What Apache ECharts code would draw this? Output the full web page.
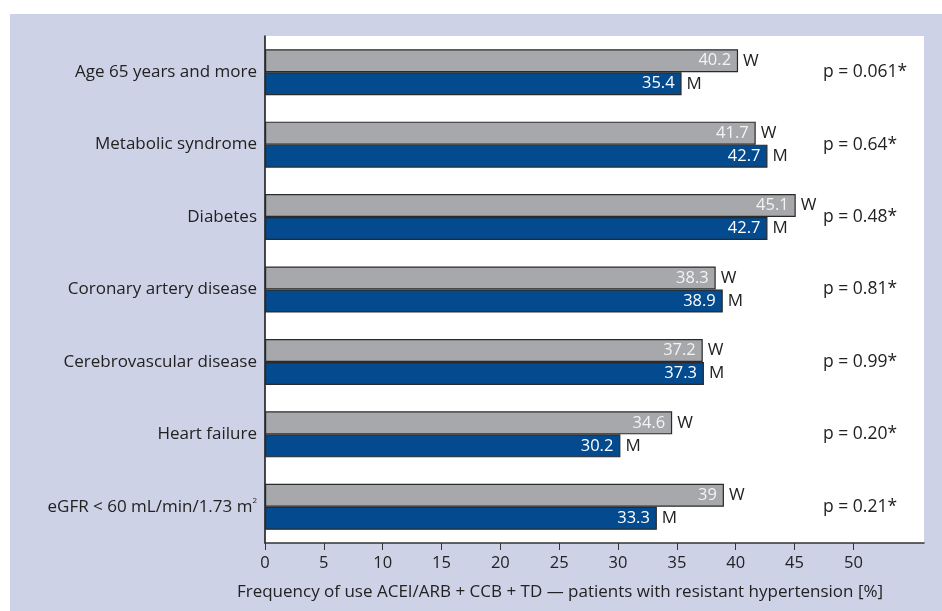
<!DOCTYPE html>
<html>
<head>
<meta charset="utf-8">
<script src="https://cdn.jsdelivr.net/npm/echarts@6/dist/echarts.min.js"></script>
<style>
  html, body { margin: 0; padding: 0; background: #ffffff; }
  #wrap { position: relative; width: 942px; height: 611px; }
  #panel { position: absolute; left: 10px; top: 14px; right: 0; bottom: 0; background: #ced2e7; }
  #chart { position: absolute; left: 0; top: 0; width: 942px; height: 611px; }
</style>
</head>
<body>
<div id="wrap">
  <div id="panel"></div>
  <div id="chart"></div>
</div>
<script>
// Conditions compared between women (W) and men (M)
const categories = [
  'Age 65 years and more',
  'Metabolic syndrome',
  'Diabetes',
  'Coronary artery disease',
  'Cerebrovascular disease',
  'Heart failure',
  'eGFR < 60 mL/min/1.73 m²'
];
const women = [40.2, 41.7, 45.1, 38.3, 37.2, 34.6, 39];
const men = [35.4, 42.7, 42.7, 38.9, 37.3, 30.2, 33.3];
const pValues = ['p = 0.061*', 'p = 0.64*', 'p = 0.48*', 'p = 0.81*', 'p = 0.99*', 'p = 0.20*', 'p = 0.21*'];
const xTicks = [0, 5, 10, 15, 20, 25, 30, 35, 40, 45, 50];
const axisTitle = 'Frequency of use ACEI/ARB + CCB + TD \u2014 patients with resistant hypertension [%]';

const FONT = '"Open Sans", "Noto Sans", sans-serif';
const TEXT = '#222222';
const GREY = '#a7a8ac';
const BLUE = '#034a8e';

const chart = echarts.init(document.getElementById('chart'), null, { renderer: 'canvas' });

function valueBar(name, data, color, labelColor) {
  return {
    name: name,
    type: 'bar',
    yAxisIndex: 0,
    data: data,
    barWidth: 23,
    barGap: '0%',
    itemStyle: { color: color, borderColor: '#2a2a2a', borderWidth: 1.2 },
    label: {
      show: true,
      position: 'insideRight',
      distance: 7,
      color: labelColor,
      fontFamily: FONT,
      fontSize: 16.5,
      formatter: p => String(p.value)
    },
    silent: true
  };
}

// transparent copies on a twin axis carry the W / M tags at the bar ends
function tagBar(tag, data) {
  return {
    name: tag + ' tag',
    type: 'bar',
    yAxisIndex: 1,
    data: data,
    barWidth: 23,
    barGap: '0%',
    itemStyle: { color: 'rgba(0,0,0,0)' },
    label: {
      show: true,
      position: 'right',
      distance: 5,
      color: TEXT,
      fontFamily: FONT,
      fontSize: 17,
      formatter: tag
    },
    silent: true
  };
}

chart.setOption({
  animation: false,
  backgroundColor: 'transparent',
  grid: {
    left: 265, right: 18, top: 36, bottom: 68,
    show: true, backgroundColor: '#ffffff', borderWidth: 0,
    containLabel: false
  },
  xAxis: {
    type: 'value',
    min: 0, max: 56, interval: 5,
    axisLine: { show: true, lineStyle: { color: '#333333', width: 1.5 } },
    axisTick: { show: true, length: 7, customValues: xTicks, lineStyle: { color: '#333333' } },
    axisLabel: { customValues: xTicks, color: TEXT, fontFamily: FONT, fontSize: 16.5, margin: 12 },
    splitLine: { show: false }
  },
  yAxis: [
    {
      type: 'category',
      inverse: true,
      data: categories,
      axisLine: { show: true, lineStyle: { color: '#111111', width: 1.5 } },
      axisTick: { show: false },
      axisLabel: {
        color: TEXT, fontFamily: FONT, fontSize: 17, margin: 8,
        formatter: v => {
          const i = v.indexOf('²');
          return i < 0 ? '{t|' + v + '}' : '{t|' + v.slice(0, i) + '}{s|2}';
        },
        rich: {
          t: { color: TEXT, fontFamily: FONT, fontSize: 17 },
          s: { color: TEXT, fontFamily: FONT, fontSize: 8, padding: [0, 0, 12, 0] }
        }
      }
    },
    {
      type: 'category',
      inverse: true,
      position: 'right',
      data: pValues,
      axisLine: { show: false },
      axisTick: { show: false },
      axisLabel: {
        inside: true, align: 'left', margin: 101,
        color: TEXT, fontFamily: FONT, fontSize: 17.5
      }
    }
  ],
  graphic: [
    {
      type: 'text',
      x: 560, y: 592,
      style: {
        text: axisTitle,
        fill: TEXT,
        font: '17px ' + FONT,
        textAlign: 'center',
        textVerticalAlign: 'middle'
      }
    }
  ],
  series: [
    valueBar('W', women, GREY, '#f3f3f3'),
    valueBar('M', men, BLUE, '#ffffff'),
    tagBar('W', women),
    tagBar('M', men)
  ]
});
</script>
</body>
</html>
